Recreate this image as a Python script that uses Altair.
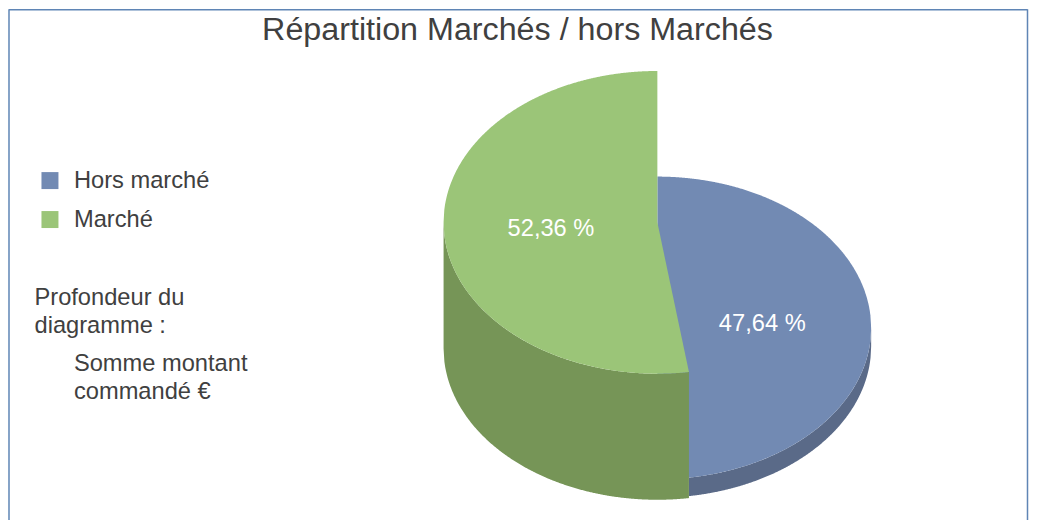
import altair as alt
import numpy as np
import pandas as pd

categories = ["Hors marché", "Marché"]
shares = [47.64, 52.36]
colors_top = ["#728ab3", "#9bc578"]
colors_side = ["#5a6a88", "#769557"]
title = "Répartition Marchés / hors Marchés"
depth_note = ["Profondeur du", "diagramme :"]
depth_name = ["Somme montant", "commandé €"]
# extrusion depth of each slice, in units of the ellipse's vertical radius
depths = [0.122, 0.833]

W, H = 1022, 512
CX, CY = 649.0, 213.3   # apex of the Marché slice (plot px)
RX, RY = 214.0, 151.5
blue_top_drop = 105.7 / RY  # Hors marché top surface lies below the Marché one

x_scale = alt.Scale(domain=[-CX / RX, (W - CX) / RX], range=[0, W], nice=False, zero=False)
y_scale = alt.Scale(domain=[-CY / RY, (H - CY) / RY], range=[0, H], nice=False, zero=False)

split = shares[0] / 100 * 2 * np.pi
sx, sy = np.sin(split), -np.cos(split)


def low(u):
    return np.sqrt(np.clip(1 - u * u, 0, 1))


def area(us, top, bottom):
    return pd.DataFrame({"u": us, "v": top, "v2": bottom})


n = 300
# Hors marché, side
u = np.linspace(sx, 1, n)
blue_side = area(u, blue_top_drop + low(u), blue_top_drop + depths[0] + low(u))
# Hors marché, top surface
u = np.linspace(0, 1, n)
blue_top = area(u, blue_top_drop - low(u), blue_top_drop + low(u))
# Marché, side
u = np.linspace(-1, sx, n)
green_side = area(u, low(u), depths[1] + low(u))
# Marché, top surface
u1 = np.linspace(-1, 0, n)
u2 = np.linspace(1e-5, sx, 40)
us = np.concatenate([u1, u2])
tops = np.concatenate([-low(u1), u2 / sx * sy])
green_top = area(us, tops, low(us))


def surf(df, color):
    return alt.Chart(df).mark_area(color=color).encode(
        x=alt.X("u:Q", scale=x_scale, axis=None),
        y=alt.Y("v:Q", scale=y_scale, axis=None),
        y2="v2",
    )


def txt(s, x, y, size, color="#404040", align="left"):
    return alt.Chart(pd.DataFrame({"t": [s]})).mark_text(
        font="Liberation Sans", fontSize=size, color=color, align=align, baseline="middle"
    ).encode(x=alt.value(x), y=alt.value(y), text="t:N")


def rule(**k):
    return alt.Chart(pd.DataFrame({"a": [0]})).mark_rule(color="#5f85b5", strokeWidth=1.5).encode(
        **{c: alt.value(v) for c, v in k.items()}
    )


def swatch(x, y, color):
    return alt.Chart(pd.DataFrame({"a": [0]})).mark_square(size=289, color=color, opacity=1).encode(
        x=alt.value(x), y=alt.value(y)
    )


def pct(v):
    return f"{v:.2f} %".replace(".", ",")


layers = [
    surf(blue_side, colors_side[0]),
    surf(blue_top, colors_top[0]),
    surf(green_side, colors_side[1]),
    surf(green_top, colors_top[1]),
    rule(x=0, y=0, y2=H),
    rule(x=1019.5, y=0, y2=H),
    rule(x=0, x2=1019.5, y=0.5),
    txt(title, 509, 21, 32.3, align="center"),
    swatch(41, 171.5, colors_top[0]),
    swatch(41, 210.5, colors_top[1]),
    txt(categories[0], 65, 172, 23.7),
    txt(categories[1], 65, 211, 23.7),
    txt(depth_note[0], 25.5, 289, 23.7),
    txt(depth_note[1], 25.5, 317, 23.7),
    txt(depth_name[0], 65, 355, 23.7),
    txt(depth_name[1], 65, 383, 23.7),
    txt(pct(shares[0]), 754, 315, 23.7, color="white", align="center"),
    txt(pct(shares[1]), 542.5, 220, 23.7, color="white", align="center"),
]

chart = alt.layer(*layers).properties(width=W, height=H, padding=0).configure_view(stroke=None)
chart.save("out.html", embed_options={"renderer": "svg", "actions": False})
